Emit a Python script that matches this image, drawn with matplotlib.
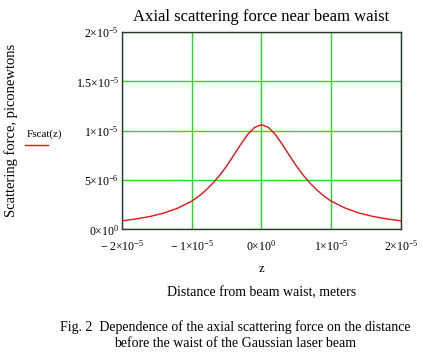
import matplotlib
matplotlib.use("Agg")
import matplotlib.pyplot as plt
from matplotlib.lines import Line2D

plt.rcParams['font.family'] = ['Liberation Serif', 'DejaVu Serif']
plt.rcParams['mathtext.fontset'] = 'custom'
plt.rcParams['mathtext.rm'] = 'Liberation Serif'
plt.rcParams['mathtext.it'] = 'Liberation Serif:italic'

# distance from waist, in units of 1e-5 m, and force (1e-5)
z_read = [-2.0, -1.8, -1.6, -1.4, -1.2, -1.0, -0.9, -0.8, -0.7, -0.6, -0.5, -0.4,
          -0.3, -0.2, -0.1, 0.0, 0.1, 0.2, 0.3, 0.4, 0.5, 0.6, 0.7, 0.8, 0.9, 1.0,
          1.2, 1.4, 1.6, 1.8, 2.0]
f_read = [0.086, 0.105, 0.130, 0.165, 0.215, 0.285, 0.335, 0.395, 0.466, 0.547,
          0.642, 0.749, 0.859, 0.960, 1.033, 1.060, 1.033, 0.960, 0.859, 0.749,
          0.642, 0.547, 0.466, 0.395, 0.335, 0.285, 0.215, 0.165, 0.130, 0.105,
          0.086]
z = [v * 1e-5 for v in z_read]
fscat = [v * 1e-5 for v in f_read]

x_ticks = [-2e-5, -1e-5, 0, 1e-5, 2e-5]
x_labels = [r'$-\ 2{\times}10^{-5}$', r'$-\ 1{\times}10^{-5}$', r'$0{\times}10^{0}$',
            r'$1{\times}10^{-5}$', r'$2{\times}10^{-5}$']
y_ticks = [0, 5e-6, 1e-5, 1.5e-5, 2e-5]
y_labels = [r'$0{\times}10^{0}$', r'$5{\times}10^{-6}$', r'$1{\times}10^{-5}$',
            r'$1.5{\times}10^{-5}$', r'$2{\times}10^{-5}$']

fig = plt.figure(figsize=(4.23, 3.6), dpi=100)
ax = fig.add_axes([0.2884, 0.363, 0.6596, 0.548])

ax.plot(z, fscat, color='#e8101a', lw=1.0, zorder=3)
ax.set_xlim(-2e-5, 2e-5)
ax.set_ylim(0, 2e-5)
ax.set_xticks(x_ticks)
ax.set_xticklabels(x_labels, fontsize=8.5)
ax.set_yticks(y_ticks)
ax.set_yticklabels(y_labels, fontsize=8.5)
ax.tick_params(axis='y', length=0, pad=2)
ax.tick_params(axis='x', length=0, pad=7)
ax.grid(True, color='#22dd22', lw=1.0)
for s in ax.spines.values():
    s.set_color('#333333')
    s.set_linewidth(1.0)

ax.set_title('Axial scattering force near beam waist', fontsize=12, pad=8)
fig.text(0.619, 0.253, 'z', fontsize=9, ha='center', va='center')
fig.text(0.619, 0.186, 'Distance from beam waist, meters', fontsize=10,
         ha='center', va='center')
fig.text(0.027, 0.637, 'Scattering force, piconewtons', fontsize=10.5,
         rotation=90, ha='center', va='center')

# legend entry
fig.text(0.064, 0.628, 'Fscat(z)', fontsize=8, ha='left', va='center')
fig.add_artist(Line2D([0.059, 0.113], [0.597, 0.597], color='#e8101a', lw=1.0))

fig.text(0.556, 0.092, 'Fig. 2  Dependence of the axial scattering force on the distance',
         fontsize=10, ha='center', va='center')
fig.text(0.556, 0.045, 'before the waist of the Gaussian laser beam',
         fontsize=10, ha='center', va='center')

fig.savefig('out.png', dpi=100)
